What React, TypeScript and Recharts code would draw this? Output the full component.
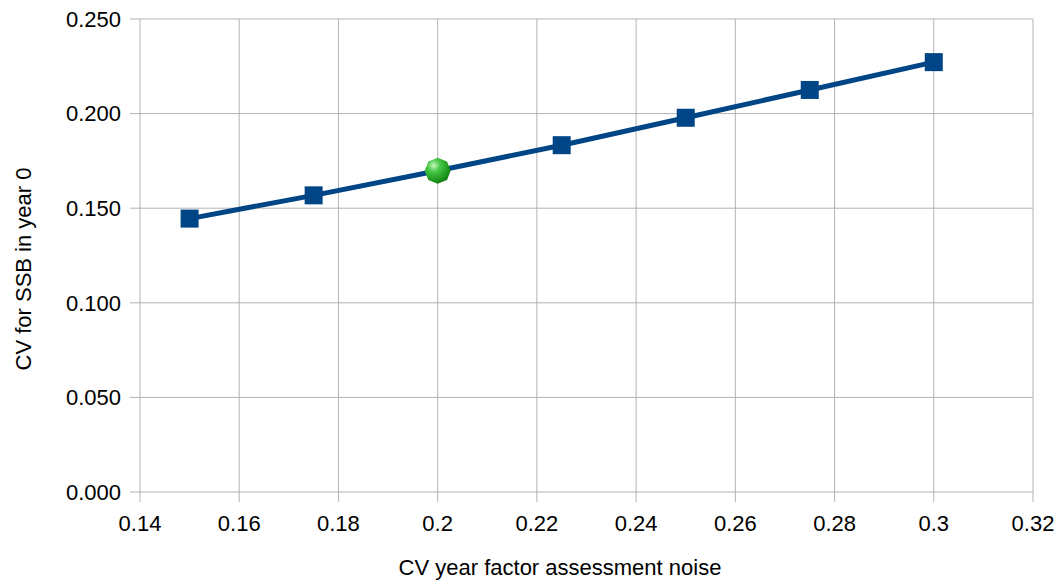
import { LineChart, Line, XAxis, YAxis, CartesianGrid, Label } from "recharts"

const noiseCV = [0.15, 0.175, 0.2, 0.225, 0.25, 0.275, 0.3]
const ssbCV = [0.1445, 0.1568, 0.1698, 0.1833, 0.1978, 0.2125, 0.2272]
const highlightX = 0.2

const xTicks = [0.14, 0.16, 0.18, 0.2, 0.22, 0.24, 0.26, 0.28, 0.3, 0.32]
const yTicks = [0, 0.05, 0.1, 0.15, 0.2, 0.25]

const xTitle = "CV year factor assessment noise"
const yTitle = "CV for SSB in year 0"

const data = noiseCV.map((x, i) => ({ x, y: ssbCV[i] }))

const FONT = "'Liberation Sans', Arial, sans-serif"
const BLUE = "#004586"
const GRID = "#b3b3b3"

function Marker(props: any) {
  const { cx, cy, payload } = props
  if (cx == null || cy == null) return null
  if (payload && Math.abs(payload.x - highlightX) < 1e-9) {
    const r = 13
    const k = 0.72
    return (
      <g key={`m-${payload.x}`}>
        <path
          d={`M ${cx - r} ${cy} L ${cx - r * k} ${cy - r * k} L ${cx} ${cy - r} L ${cx + r * k} ${cy - r * k} L ${cx + r} ${cy} L ${cx + r * k} ${cy + r * k} L ${cx} ${cy + r} L ${cx - r * k} ${cy + r * k} Z`}
          fill="url(#greenGrad)"
        />
      </g>
    )
  }
  return <rect key={`m-${payload?.x}`} x={cx - 9} y={cy - 9} width={18} height={18} fill={BLUE} />
}

export default function App() {
  return (
    <div style={{ position: "absolute", left: 0, top: 0, background: "#fff" }}>
      <LineChart
        width={1062}
        height={583}
        data={data}
        margin={{ top: 19, right: 29, bottom: 0, left: 0 }}
        style={{ fontFamily: FONT }}
      >
        <defs>
          <radialGradient id="greenGrad" cx="35%" cy="30%" r="80%">
            <stop offset="0%" stopColor="#c8f5c0" />
            <stop offset="30%" stopColor="#48c848" />
            <stop offset="70%" stopColor="#1f9a1f" />
            <stop offset="100%" stopColor="#0e6e0e" />
          </radialGradient>
        </defs>
        <CartesianGrid stroke={GRID} strokeWidth={1} />
        <XAxis
          dataKey="x"
          type="number"
          domain={[0.14, 0.32]}
          ticks={xTicks}
          interval={0}
          height={91}
          axisLine={false}
          tickLine={{ stroke: GRID }}
          tickSize={10}
          tickMargin={13}
          tick={{ fill: "#000", fontSize: 22, fontFamily: FONT }}
        >
          <Label
            content={() => (
              <text x={560} y={575} textAnchor="middle" fill="#000" fontSize={22} fontFamily={FONT}>
                {xTitle}
              </text>
            )}
          />
        </XAxis>
        <YAxis
          type="number"
          domain={[0, 0.25]}
          ticks={yTicks}
          interval={0}
          width={140}
          axisLine={false}
          tickLine={{ stroke: GRID }}
          tickSize={10}
          tickMargin={9}
          tickFormatter={(v: number) => v.toFixed(3)}
          tick={{ fill: "#000", fontSize: 22, fontFamily: FONT }}
        >
          <Label
            content={() => (
              <text
                x={0}
                y={0}
                transform="translate(31 269) rotate(-90)"
                textAnchor="middle"
                fill="#000"
                fontSize={22}
                fontFamily={FONT}
              >
                {yTitle}
              </text>
            )}
          />
        </YAxis>
        <Line
          dataKey="y"
          stroke={BLUE}
          strokeWidth={5}
          dot={<Marker />}
          activeDot={false}
          isAnimationActive={false}
        />
      </LineChart>
    </div>
  )
}
